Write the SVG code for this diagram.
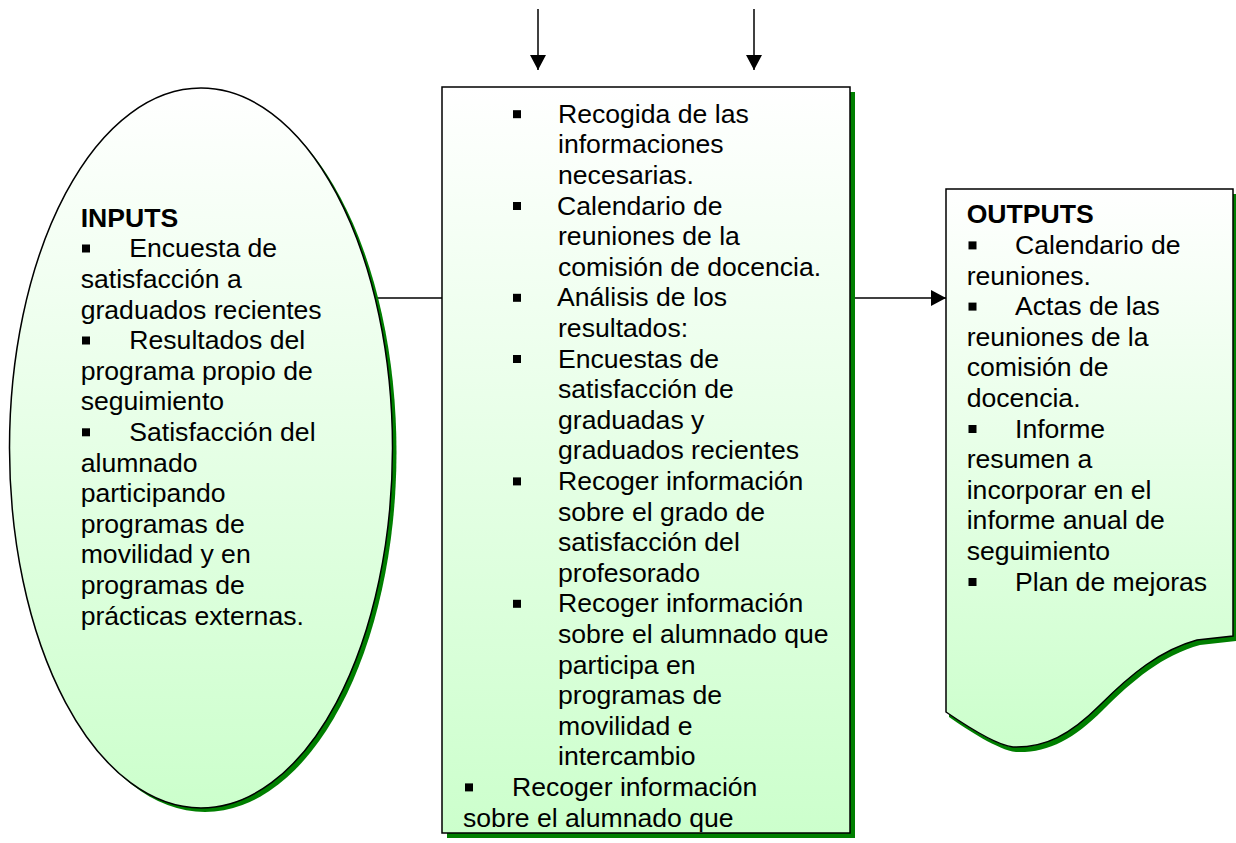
<svg xmlns="http://www.w3.org/2000/svg" xmlns:xlink="http://www.w3.org/1999/xlink" width="1236" height="843" viewBox="0 0 1236 843">
<style>
.t{font-family:"Liberation Sans",Arial,sans-serif;font-size:26.6px;fill:#000}
.b{font-weight:bold}
.sh{fill:#007f00}
.shape{stroke:#000;stroke-width:1.5}
.ln{stroke:#000;stroke-width:1.5;fill:none}
</style>
<defs>
<linearGradient id="g" x1="0" y1="0" x2="0" y2="1">
<stop offset="0" stop-color="#ffffff"/>
<stop offset="1" stop-color="#ccffcc"/>
</linearGradient>
<marker id="ah" markerUnits="userSpaceOnUse" markerWidth="16" markerHeight="16" refX="15" refY="8" orient="auto">
<path d="M0,0 L15,8 L0,16 Z" fill="#000"/>
</marker>
<rect id="bl" width="8" height="8" fill="#000"/>
</defs>
<g id="connectors">
<line class="ln" x1="538" y1="9" x2="538" y2="70" marker-end="url(#ah)"/>
<line class="ln" x1="754" y1="9" x2="754" y2="70" marker-end="url(#ah)"/>
<line class="ln" x1="376" y1="298" x2="442" y2="298"/>
<line class="ln" x1="855" y1="298" x2="946" y2="298" marker-end="url(#ah)"/>
</g>
<g id="inputs">
<ellipse class="sh" cx="205" cy="452" rx="191.5" ry="360"/>
<ellipse class="shape" cx="201" cy="448" rx="191.5" ry="360" fill="url(#g)"/>
<text class="t b" x="80.7" y="226.7">INPUTS</text>
<use xlink:href="#bl" x="82" y="244.5"/>
<use xlink:href="#bl" x="82" y="336.5"/>
<use xlink:href="#bl" x="82" y="428.3"/>
<text class="t">
<tspan x="129.3" y="257.3">Encuesta de</tspan>
<tspan x="80.7" y="287.9">satisfacción a</tspan>
<tspan x="80.7" y="318.5">graduados recientes</tspan>
<tspan x="129.3" y="349.1">Resultados del</tspan>
<tspan x="80.7" y="379.7">programa propio de</tspan>
<tspan x="80.7" y="410.3">seguimiento</tspan>
<tspan x="129.3" y="440.9">Satisfacción del</tspan>
<tspan x="80.7" y="471.5">alumnado</tspan>
<tspan x="80.7" y="502.1">participando</tspan>
<tspan x="80.7" y="532.7">programas de</tspan>
<tspan x="80.7" y="563.3">movilidad y en</tspan>
<tspan x="80.7" y="593.9">programas de</tspan>
<tspan x="80.7" y="624.5">prácticas externas.</tspan>
</text>
</g>
<g id="process">
<rect class="sh" x="447" y="92" width="408" height="746"/>
<rect class="shape" x="442" y="87" width="408" height="746" fill="url(#g)"/>
<use xlink:href="#bl" x="513" y="110.2"/>
<use xlink:href="#bl" x="513" y="202"/>
<use xlink:href="#bl" x="513" y="293.8"/>
<use xlink:href="#bl" x="513" y="355"/>
<use xlink:href="#bl" x="513" y="477.4"/>
<use xlink:href="#bl" x="513" y="599.8"/>
<use xlink:href="#bl" x="465" y="783.4"/>
<text class="t">
<tspan x="558" y="122.7">Recogida de las</tspan>
<tspan x="558" y="153.3">informaciones</tspan>
<tspan x="558" y="183.9">necesarias.</tspan>
<tspan x="557" y="214.5">Calendario de</tspan>
<tspan x="558" y="245.1">reuniones de la</tspan>
<tspan x="558" y="275.7">comisión de docencia.</tspan>
<tspan x="557" y="306.3">Análisis de los</tspan>
<tspan x="558" y="336.9">resultados:</tspan>
<tspan x="558" y="367.5">Encuestas de</tspan>
<tspan x="558" y="398.1">satisfacción de</tspan>
<tspan x="558" y="428.7">graduadas y</tspan>
<tspan x="558" y="459.3">graduados recientes</tspan>
<tspan x="558" y="489.9">Recoger información</tspan>
<tspan x="558" y="520.5">sobre el grado de</tspan>
<tspan x="558" y="551.1">satisfacción del</tspan>
<tspan x="558" y="581.7">profesorado</tspan>
<tspan x="558" y="612.3">Recoger información</tspan>
<tspan x="558" y="642.9">sobre el alumnado que</tspan>
<tspan x="558" y="673.5">participa en</tspan>
<tspan x="558" y="704.1">programas de</tspan>
<tspan x="558" y="734.7">movilidad e</tspan>
<tspan x="558" y="765.3">intercambio</tspan>
<tspan x="512" y="795.9">Recoger información</tspan>
<tspan x="463" y="826.5">sobre el alumnado que</tspan>
</text>
</g>
<g id="outputs">
<path class="sh" transform="translate(3,5)" d="M946,189 H1233 V636 L1197,640 C1160,650 1130,675 1100,705 C1070,735 1045,748 1013,747 C995,745 965,725 946,712 Z"/>
<path class="shape" fill="url(#g)" d="M946,189 H1233 V636 L1197,640 C1160,650 1130,675 1100,705 C1070,735 1045,748 1013,747 C995,745 965,725 946,712 Z"/>
<text class="t b" x="966.7" y="223.3">OUTPUTS</text>
<use xlink:href="#bl" x="968.5" y="241.4"/>
<use xlink:href="#bl" x="968.5" y="302.6"/>
<use xlink:href="#bl" x="968.5" y="425"/>
<use xlink:href="#bl" x="968.5" y="578"/>
<text class="t">
<tspan x="1015" y="253.9">Calendario de</tspan>
<tspan x="966.7" y="284.5">reuniones.</tspan>
<tspan x="1015" y="315.1">Actas de las</tspan>
<tspan x="966.7" y="345.7">reuniones de la</tspan>
<tspan x="966.7" y="376.3">comisión de</tspan>
<tspan x="966.7" y="406.9">docencia.</tspan>
<tspan x="1015" y="437.5">Informe</tspan>
<tspan x="966.7" y="468.1">resumen a</tspan>
<tspan x="966.7" y="498.7">incorporar en el</tspan>
<tspan x="966.7" y="529.3">informe anual de</tspan>
<tspan x="966.7" y="559.9">seguimiento</tspan>
<tspan x="1015" y="590.5">Plan de mejoras</tspan>
</text>
</g>
</svg>
